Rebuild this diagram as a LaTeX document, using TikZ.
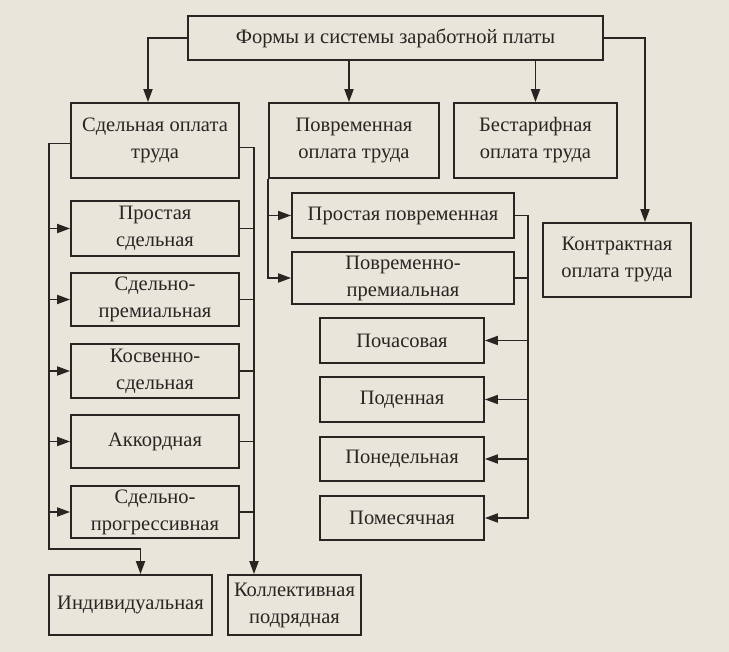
\documentclass[tikz,border=0pt]{standalone}
\usepackage{fontspec}
\setmainfont{Liberation Serif}
\usetikzlibrary{arrows.meta,positioning}
\definecolor{paper}{RGB}{233,229,219}
\definecolor{ink}{RGB}{40,37,34}

\begin{document}
\begin{tikzpicture}[x=1pt,y=-1pt,
  box/.style={draw=ink,line width=1.8pt,fill=paper,align=center,inner sep=0pt,
    text=ink,font=\fontsize{20.5}{27}\selectfont},
  link/.style={draw=ink,line width=1.8pt},
  arr/.style={link,-{Triangle[length=13pt,width=9pt]}}]

\fill[paper] (0,0) rectangle (729,652);

% top level
\node[box,minimum width=415pt,minimum height=44pt] (forms) at (395.5,38) {Формы и системы заработной платы};
\node[box,minimum width=168pt,minimum height=75pt] (sdel) at (155,140.5) {Сдельная оплата\\труда};
\node[box,minimum width=170pt,minimum height=75pt] (pov) at (354,140.5) {Повременная\\оплата труда};
\node[box,minimum width=163pt,minimum height=75pt] (bestar) at (535.5,140.5) {Бестарифная\\оплата труда};
\node[box,minimum width=148pt,minimum height=74pt] (kontr) at (617,260) {Контрактная\\оплата труда};

% piece rate kinds
\node[box,minimum width=168pt,minimum height=55pt] (prostsd) at (155,228.5) {Простая\\сдельная};
\node[box,minimum width=168pt,minimum height=53pt] (sdprem) at (155,299.5) {Сдельно-\\премиальная};
\node[box,minimum width=168pt,minimum height=54pt] (kosv) at (155,371) {Косвенно-\\сдельная};
\node[box,minimum width=168pt,minimum height=53pt] (akkord) at (155,441.5) {Аккордная};
\node[box,minimum width=168pt,minimum height=52pt] (sdprog) at (155,512) {Сдельно-\\прогрессивная};
\node[box,minimum width=163pt,minimum height=60pt] (indiv) at (130.5,605) {Индивидуальная};
\node[box,minimum width=133pt,minimum height=60pt] (koll) at (294.5,605) {Коллективная\\подрядная};

% time rate kinds
\node[box,minimum width=222pt,minimum height=45pt] (prostpov) at (403,215.5) {Простая повременная};
\node[box,minimum width=222pt,minimum height=52pt] (povprem) at (403,278) {Повременно-\\премиальная};
\node[box,minimum width=164pt,minimum height=45pt] (pochas) at (402,340.5) {Почасовая};
\node[box,minimum width=164pt,minimum height=45pt] (poden) at (402,399.5) {Поденная};
\node[box,minimum width=164pt,minimum height=44pt] (poned) at (402,459) {Понедельная};
\node[box,minimum width=164pt,minimum height=44pt] (pomes) at (402,518) {Помесячная};

% bus lines
\coordinate (lbus) at (49,549);
\coordinate (rbus) at (254,575);
\coordinate (pbus) at (528,0);

% from the top box
\draw[arr] (forms.west) -| ([xshift=-7pt]sdel.north);
\draw[arr] ([xshift=-5pt]pov.north |- forms.south) -- ([xshift=-5pt]pov.north);
\draw[arr] (bestar.north |- forms.south) -- (bestar.north);
\draw[arr] (forms.east) -| ([xshift=28pt]kontr.north);

% piece rate
\draw[arr] ([yshift=-3pt]sdel.west) -| (lbus) -| ([xshift=10pt]indiv.north);
\draw[arr] ([yshift=-7pt]sdel.east) -| (koll.north -| rbus);
\foreach \n in {prostsd,sdprem,kosv,akkord,sdprog}{
  \draw[arr] (\n.west -| lbus) -- (\n.west);
  \draw[link] (\n.east) -- (\n.east -| rbus);
}

% time rate
\draw[arr] (pov.south west) |- (povprem.west);
\draw[arr] (prostpov.west -| pov.south west) -- (prostpov.west);
\draw[arr] (prostpov.east) -| (pbus |- pomes.east) -- (pomes.east);
\draw[link] (povprem.east) -- (povprem.east -| pbus);
\foreach \n in {pochas,poden,poned}
  \draw[arr] (\n.east -| pbus) -- (\n.east);
\end{tikzpicture}
\end{document}
